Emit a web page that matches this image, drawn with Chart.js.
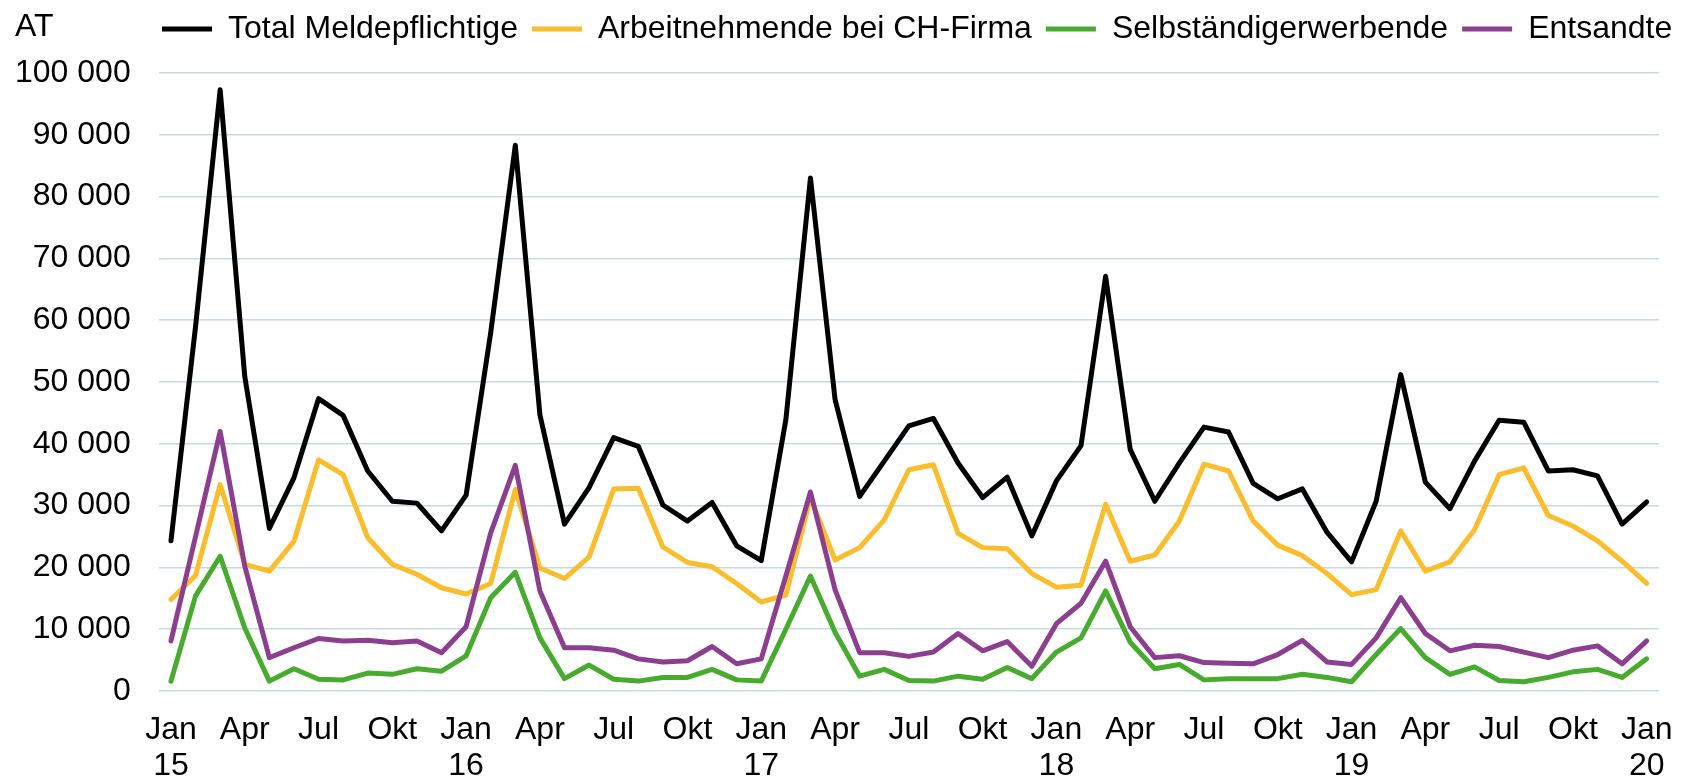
<!DOCTYPE html>
<html>
<head>
<meta charset="utf-8">
<script src="https://cdn.jsdelivr.net/npm/chart.js@4.4.1/dist/chart.umd.min.js"></script>
<style>
    body { margin: 0; background: #fff; }
    #wrap { width: 1683px; height: 780px; }
</style>
</head>
<body>
<div id="wrap"><canvas id="myChart" width="1683" height="780"></canvas></div>
<script>
const monthNames = ['Jan', 'Feb', 'Mär', 'Apr', 'Mai', 'Jun', 'Jul', 'Aug', 'Sep', 'Okt', 'Nov', 'Dez']
const years = ['15', '16', '17', '18', '19', '20']

// Monatswerte Jan 15 .. Jan 20 (61 Monate)
const totalMeldepflichtige = [
    24300, 59000, 97300, 50900, 26300, 34500, 47300, 44600, 35600, 30700, 30400, 25900,
    31700, 58000, 88300, 44700, 27000, 32900, 41000, 39600, 30100, 27500, 30500, 23500,
    21100, 43900, 83000, 47200, 31500, 37200, 42900, 44100, 36900, 31300, 34600, 25100,
    34000, 39700, 67100, 39100, 30700, 36900, 42700, 41900, 33600, 31100, 32700, 25700,
    20900, 30700, 51200, 33800, 29500, 37200, 43800, 43500, 35600, 35800, 34800, 27000,
    30600
]
const arbeitnehmende = [
    14800, 18700, 33400, 20500, 19400, 24200, 37400, 35000, 24800, 20500, 18900, 16700,
    15700, 17400, 32600, 19900, 18200, 21700, 32700, 32800, 23300, 20800, 20100, 17400,
    14400, 15500, 31300, 21200, 23200, 27700, 35800, 36600, 25500, 23200, 23000, 19000,
    16800, 17100, 30200, 21000, 22000, 27500, 36700, 35600, 27500, 23600, 21900, 19000,
    15600, 16400, 25900, 19400, 20900, 26100, 35000, 36100, 28400, 26700, 24300, 21000,
    17400
]
const selbstaendige = [
    1600, 15400, 21800, 10200, 1600, 3600, 1900, 1800, 2900, 2700, 3600, 3200,
    5700, 15100, 19200, 8600, 2000, 4200, 1900, 1600, 2200, 2200, 3500, 1800,
    1600, 10000, 18600, 9500, 2400, 3500, 1700, 1600, 2400, 1900, 3800, 2000,
    6300, 8600, 16200, 7900, 3600, 4300, 1800, 2000, 2000, 2000, 2700, 2200,
    1500, 5900, 10100, 5400, 2700, 3900, 1700, 1500, 2200, 3100, 3500, 2200,
    5200
]
const entsandte = [
    8100, 25000, 42000, 20200, 5400, 7000, 8500, 8100, 8200, 7800, 8100, 6200,
    10400, 25600, 36500, 16200, 7000, 7000, 6600, 5200, 4700, 4900, 7200, 4400,
    5200, 18600, 32200, 16400, 6200, 6200, 5600, 6300, 9300, 6500, 8000, 4000,
    10900, 14200, 21000, 10400, 5400, 5700, 4600, 4500, 4400, 5900, 8200, 4700,
    4300, 8600, 15100, 9300, 6500, 7400, 7200, 6300, 5400, 6600, 7300, 4400,
    8100
]

const categories = []
years.forEach((year, y) => {
    monthNames.forEach((month, m) => {
        if (y < years.length - 1 || m === 0) categories.push(month + ' ' + year)
    })
})

const fontFamily = '"Liberation Sans", Arial, sans-serif'
const fontSize = 32

function formatThousands(value) {
    return String(value).replace(/\B(?=(\d{3})+(?!\d))/g, ' ')
}

function xTickLabel(index) {
    if (index % 3 !== 0) return ''
    const [month, year] = categories[index].split(' ')
    return month === 'Jan' ? [month, year] : month
}

// "AT" oben links, auf Höhe der Legende
const unitLabel = {
    id: 'unitLabel',
    afterDraw(chart) {
        const ctx = chart.ctx
        ctx.save()
        ctx.font = fontSize + 'px ' + fontFamily
        ctx.fillStyle = '#000'
        ctx.textBaseline = 'alphabetic'
        ctx.fillText('AT', 15, 35.5)
        ctx.restore()
    }
}

// Legende: feste Höhe über der Grafik, Einträge ab x=148 statt zentriert
const legendPlacement = {
    id: 'legendPlacement',
    beforeInit(chart) {
        const fit = chart.legend.fit
        chart.legend.fit = function () {
            fit.bind(chart.legend)()
            this.height = 73
        }
    },
    afterLayout(chart) {
        chart.legend.left = 148
        chart.legend.right = chart.width + 200
        chart.legend.top = -1
    }
}

function lineSet(label, data, color, order) {
    return {
        label: label,
        data: data,
        borderColor: color,
        backgroundColor: color,
        borderWidth: 5,
        pointRadius: 0,
        tension: 0,
        borderJoinStyle: 'round',
        borderCapStyle: 'round',
        order: order
    }
}

const ctx = document.getElementById('myChart')
new Chart(ctx, {
    type: 'line',
    data: {
        labels: categories,
        datasets: [
            lineSet('Total Meldepflichtige', totalMeldepflichtige, '#000000', 4),
            lineSet('Arbeitnehmende bei CH-Firma', arbeitnehmende, '#fcbd2d', 3),
            lineSet('Selbständigerwerbende', selbstaendige, '#47ab2e', 2),
            lineSet('Entsandte', entsandte, '#8d3f8f', 1)
        ]
    },
    options: {
        responsive: false,
        animation: false,
        devicePixelRatio: 1,
        layout: { padding: { left: 15, right: 24, top: 0, bottom: 0 } },
        plugins: {
            tooltip: { enabled: false },
            legend: {
                position: 'top',
                align: 'start',
                labels: {
                    usePointStyle: true,
                    pointStyle: 'line',
                    pointStyleWidth: 50,
                    boxHeight: 4,
                    padding: 14,
                    color: '#000',
                    font: { family: fontFamily, size: fontSize },
                    sort: (a, b) => a.datasetIndex - b.datasetIndex
                }
            }
        },
        scales: {
            x: {
                offset: true,
                grid: { display: false, drawTicks: false },
                border: { display: false },
                ticks: {
                    autoSkip: false,
                    maxRotation: 0,
                    padding: 20.5,
                    color: '#000',
                    font: { family: fontFamily, size: fontSize, lineHeight: 1.147 },
                    callback: (value, index) => xTickLabel(index)
                },
                afterFit(axis) {
                    axis.height = 89
                    axis.paddingLeft = 0
                    axis.paddingRight = 0
                }
            },
            y: {
                min: 0,
                max: 100000,
                border: { display: false },
                grid: { color: '#c7d9e0', lineWidth: 1.5, drawTicks: false },
                ticks: {
                    stepSize: 10000,
                    padding: 28,
                    color: '#000',
                    font: { family: fontFamily, size: fontSize },
                    callback: value => formatThousands(value)
                },
                afterFit(axis) {
                    axis.width -= axis.options.ticks.padding
                    axis.paddingTop = 0
                    axis.paddingBottom = 0
                }
            }
        }
    },
    plugins: [unitLabel, legendPlacement]
})
</script>
</body>
</html>
